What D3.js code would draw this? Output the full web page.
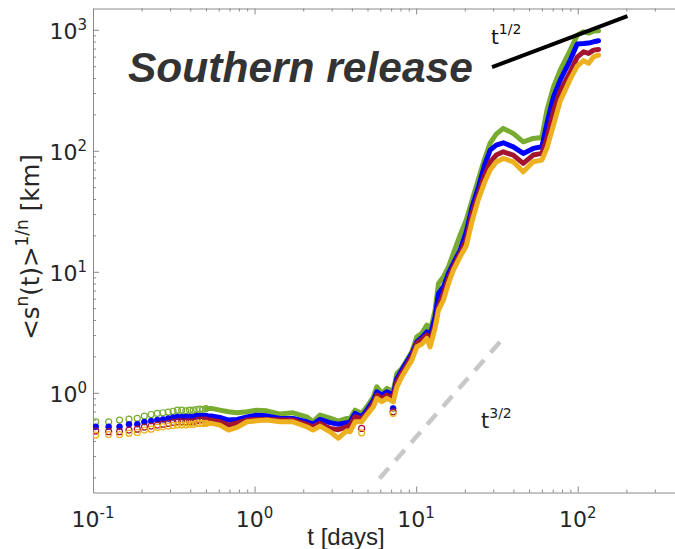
<!DOCTYPE html>
<html>
<head>
<meta charset="utf-8">
<script src="https://cdn.jsdelivr.net/npm/d3@7"></script>
<style>
  html, body { margin: 0; padding: 0; background: #fff; }
  svg { display: block; }
</style>
</head>
<body>
<svg id="chart" width="675" height="549"></svg>
<script>
// Early half-hourly samples (days), drawn as individual markers
const sampleTimes = [0.104, 0.125, 0.146, 0.167, 0.188, 0.208, 0.229, 0.25, 0.271, 0.292,
                     0.313, 0.333, 0.354, 0.375, 0.396, 0.417, 0.438, 0.458, 0.479, 0.5];
const greenSamples  = [0.576, 0.576, 0.595, 0.606, 0.614, 0.642, 0.662, 0.676, 0.684, 0.693,
                       0.704, 0.719, 0.719, 0.710, 0.719, 0.719, 0.728, 0.733, 0.728, 0.742];
const blueSamples   = [0.524, 0.524, 0.524, 0.549, 0.551, 0.573, 0.584, 0.595, 0.602, 0.612,
                       0.624, 0.632, 0.632, 0.632, 0.632, 0.632, 0.642, 0.642, 0.642, 0.642];
const redSamples    = [0.483, 0.477, 0.477, 0.492, 0.501, 0.521, 0.531, 0.541, 0.551, 0.558,
                       0.569, 0.576, 0.576, 0.576, 0.576, 0.576, 0.588, 0.595, 0.595, 0.595];
const orangeSamples = [0.447, 0.452, 0.452, 0.464, 0.470, 0.492, 0.501, 0.518, 0.524, 0.531,
                       0.538, 0.541, 0.541, 0.541, 0.548, 0.548, 0.558, 0.558, 0.558, 0.558];

// Later record (days), dense enough to read as continuous tracks
const trackTimes = [0.5, 0.54, 0.61, 0.69, 0.78, 0.9, 1.03, 1.19, 1.44, 1.73,
                    2.1, 2.3, 2.54, 2.93, 3.3, 3.72, 3.9, 4.19, 4.61, 4.95,
                    5.44, 5.71, 6.13, 6.59, 6.9, 7.23, 7.6, 8.15, 8.76, 9.41,
                    10.1, 10.85, 11.65, 12.2, 13.1, 13.75, 14.75, 15.85, 17.0, 18.7,
                    20.4, 22.2, 24.2, 26.4, 28.7, 31.3, 34.6, 39.9, 46.0, 53.0,
                    60.0, 64.5, 70.8, 77.9, 89.9, 99.3, 108.6, 116.7, 125.3, 134.5];
const greenTrack = [0.742, 0.743, 0.719, 0.697, 0.683, 0.697, 0.719, 0.710, 0.667, 0.683,
                    0.633, 0.576, 0.654, 0.618, 0.584, 0.614, 0.614, 0.719, 0.676, 0.766,
                    0.927, 1.121, 0.989, 1.087, 1.053, 1.053, 1.446, 1.591, 1.863, 2.182,
                    2.903, 3.097, 3.627, 3.192, 4.826, 8.02, 9.09, 11.0, 14.19, 20.1,
                    26.75, 39.1, 57.3, 83.8, 115.8, 137.4, 153.2, 139.3, 118.7, 126.6,
                    129.0, 216.9, 338, 464.5, 679.5, 904, 962.7, 939, 975.6, 981];
const blueTrack  = [0.642, 0.642, 0.626, 0.595, 0.603, 0.633, 0.654, 0.645, 0.614, 0.614,
                    0.576, 0.551, 0.603, 0.567, 0.549, 0.565, 0.576, 0.676, 0.633, 0.719,
                    0.870, 1.019, 0.957, 1.019, 0.989, 0.989, 1.315, 1.540, 1.804, 2.117,
                    2.639, 2.870, 3.192, 2.998, 4.248, 6.63, 7.52, 9.70, 11.73, 15.11,
                    21.29, 34.24, 49.2, 74.7, 101.3, 111.5, 116.5, 107.9, 95.2, 104.7,
                    107.9, 168.4, 279.4, 384, 561.9, 761.8, 769, 776.5, 795.8, 811];
const redTrack   = [0.595, 0.595, 0.576, 0.541, 0.565, 0.595, 0.603, 0.603, 0.595, 0.595,
                    0.548, 0.524, 0.559, 0.508, 0.496, 0.524, 0.541, 0.633, 0.614, 0.676,
                    0.817, 0.957, 0.899, 0.957, 0.927, 0.927, 1.233, 1.446, 1.694, 2.011,
                    2.560, 2.763, 2.998, 2.726, 3.627, 5.137, 6.63, 8.82, 11.0, 14.19,
                    18.32, 30.56, 43.05, 61.8, 80.7, 92.2, 98.1, 92.2, 78.7, 92.2,
                    95.2, 127.4, 212.8, 311.5, 447.1, 594.9, 658, 638, 679.5, 688.7];
const orangeTrack = [0.558, 0.559, 0.541, 0.492, 0.518, 0.576, 0.587, 0.595, 0.576, 0.576,
                     0.524, 0.492, 0.531, 0.476, 0.422, 0.485, 0.476, 0.576, 0.576, 0.654,
                     0.766, 0.899, 0.843, 0.899, 0.870, 0.843, 1.121, 1.356, 1.591, 1.863,
                     2.400, 2.526, 2.816, 2.400, 3.425, 4.826, 5.84, 8.02, 10.33, 13.30,
                     16.31, 26.24, 39.1, 54.1, 69.3, 80.7, 86.5, 81.1, 67.1, 81.1,
                     83.8, 105.3, 163.1, 257.5, 391.3, 501.2, 556.6, 527.6, 598.4, 618];

// Isolated samples that fall below the tracks
const strayTimes  = [4.6, 7.2];
const greenStray  = [null, null];
const blueStray   = [null, 0.743];
const redStray    = [0.508, 0.697];
const orangeStray = [0.467, 0.673];

// Power-law guides: end points (days, km)
const halfGuideTimes = [29.5, 203];
const halfGuideValues = [491, 1295];
const threeHalfGuideTimes = [5.93, 33.1];
const threeHalfGuideValues = [0.196, 2.64];

// Axis ticks and their labels (powers of ten)
const xMajorTicks = [0.1, 1, 10, 100];
const xTickExponents = ["-1", "0", "1", "2"];
const yMajorTicks = [1, 10, 100, 1000];
const yTickExponents = ["0", "1", "2", "3"];

const series = [
  { color: "#77AC30", filled: false, samples: greenSamples,  track: greenTrack,  stray: greenStray },
  { color: "#0000FF", filled: true,  samples: blueSamples,   track: blueTrack,   stray: blueStray },
  { color: "#A2142F", filled: false, samples: redSamples,    track: redTrack,    stray: redStray },
  { color: "#EDB120", filled: false, samples: orangeSamples, track: orangeTrack, stray: orangeStray }
];

const svg = d3.select("#chart");
const x = d3.scaleLog().domain([0.1, 400]).range([93, 675]);
const y = d3.scaleLog().domain([0.15, 1500]).range([492.5, 8.5]);

const axisColor = "#8a8a8a";
const labelColor = "#262626";
const tickFont = "'DejaVu Sans', sans-serif";

function styleAxis(g) {
  g.selectAll(".domain").attr("stroke", axisColor).attr("stroke-width", 1);
  g.selectAll(".tick line").attr("stroke", axisColor).attr("stroke-width", 1);
}

const xMinor = x.ticks().filter(t => !xMajorTicks.some(m => Math.abs(m - t) < 1e-9));
const yMinor = y.ticks().filter(t => !yMajorTicks.some(m => Math.abs(m - t) < 1e-9));

const [yBottom, yTop] = y.range();
const xLeft = x.range()[0];

// bottom axis
svg.append("g").attr("transform", `translate(0,${yBottom})`)
  .call(d3.axisBottom(x).tickValues(xMajorTicks).tickSizeInner(-6).tickSizeOuter(0).tickFormat(""))
  .call(styleAxis);
svg.append("g").attr("transform", `translate(0,${yBottom})`)
  .call(d3.axisBottom(x).tickValues(xMinor).tickSizeInner(-3).tickSizeOuter(0).tickFormat(""))
  .call(g => g.select(".domain").remove()).call(styleAxis);
// top axis
svg.append("g").attr("transform", `translate(0,${yTop})`)
  .call(d3.axisTop(x).tickValues(xMajorTicks).tickSizeInner(-6).tickSizeOuter(0).tickFormat(""))
  .call(styleAxis);
svg.append("g").attr("transform", `translate(0,${yTop})`)
  .call(d3.axisTop(x).tickValues(xMinor).tickSizeInner(-3).tickSizeOuter(0).tickFormat(""))
  .call(g => g.select(".domain").remove()).call(styleAxis);
// left axis
svg.append("g").attr("transform", `translate(${xLeft},0)`)
  .call(d3.axisLeft(y).tickValues(yMajorTicks).tickSizeInner(-6).tickSizeOuter(0).tickFormat(""))
  .call(styleAxis);
svg.append("g").attr("transform", `translate(${xLeft},0)`)
  .call(d3.axisLeft(y).tickValues(yMinor).tickSizeInner(-3).tickSizeOuter(0).tickFormat(""))
  .call(g => g.select(".domain").remove()).call(styleAxis);

// power-of-ten tick labels
function powerLabel(sel, exponent) {
  sel.append("tspan").text("10");
  sel.append("tspan").attr("dy", -9).attr("font-size", 15).text(exponent);
}
xMajorTicks.forEach((t, i) => {
  svg.append("text")
    .attr("x", x(t)).attr("y", 527)
    .attr("text-anchor", "middle")
    .attr("font-family", tickFont).attr("font-size", 22).attr("fill", labelColor)
    .call(powerLabel, xTickExponents[i]);
});
yMajorTicks.forEach((t, i) => {
  svg.append("text")
    .attr("x", 87).attr("y", y(t) + 9)
    .attr("text-anchor", "end")
    .attr("font-family", tickFont).attr("font-size", 22).attr("fill", labelColor)
    .call(powerLabel, yTickExponents[i]);
});

// axis titles
svg.append("text")
  .attr("x", 346).attr("y", 545)
  .attr("text-anchor", "middle")
  .attr("font-family", "'Liberation Sans', Arial, sans-serif").attr("font-size", 24)
  .attr("fill", labelColor)
  .text("t [days]");

const yTitle = svg.append("text")
  .attr("transform", "translate(39,247) rotate(-90)")
  .attr("text-anchor", "middle")
  .attr("font-family", tickFont).attr("font-size", 24.5).attr("fill", labelColor);
yTitle.append("tspan").text("<s");
yTitle.append("tspan").attr("dy", -11).attr("font-size", 17).text("n");
yTitle.append("tspan").attr("dy", 11).text("(t)>");
yTitle.append("tspan").attr("dy", -11).attr("font-size", 17).text("1/n");
yTitle.append("tspan").attr("dy", 11).text(" [km]");

// plot clip
svg.append("clipPath").attr("id", "plot-clip")
  .append("rect").attr("x", xLeft).attr("y", yTop).attr("width", 675 - xLeft).attr("height", yBottom - yTop);
const plot = svg.append("g").attr("clip-path", "url(#plot-clip)");

// t^{3/2} guide (dashed grey)
const guideLine = d3.line().x(d => x(d[0])).y(d => y(d[1]));
plot.append("path")
  .datum(threeHalfGuideTimes.map((t, i) => [t, threeHalfGuideValues[i]]))
  .attr("d", guideLine)
  .attr("fill", "none").attr("stroke", "#c8c8c8").attr("stroke-width", 4.5)
  .attr("stroke-dasharray", "14,10");

// series
const trackLine = d3.line().x(d => x(d[0])).y(d => y(d[1]));
const markerR = 3;
series.forEach(s => {
  const g = plot.append("g");
  g.append("path")
    .datum(trackTimes.map((t, i) => [t, s.track[i]]))
    .attr("d", trackLine)
    .attr("fill", "none").attr("stroke", s.color)
    .attr("stroke-width", 5).attr("stroke-linejoin", "round").attr("stroke-linecap", "round");
  const pts = sampleTimes.map((t, i) => [t, s.samples[i]])
    .concat(strayTimes.map((t, i) => [t, s.stray[i]]).filter(d => d[1] != null));
  g.selectAll("circle").data(pts).join("circle")
    .attr("cx", d => x(d[0])).attr("cy", d => y(d[1])).attr("r", markerR)
    .attr("fill", s.filled ? s.color : "none")
    .attr("stroke", s.color).attr("stroke-width", s.filled ? 0.6 : 1.2);
});

// t^{1/2} guide (solid black)
plot.append("path")
  .datum(halfGuideTimes.map((t, i) => [t, halfGuideValues[i]]))
  .attr("d", guideLine)
  .attr("fill", "none").attr("stroke", "#000").attr("stroke-width", 4);

// guide labels
const halfLabel = svg.append("text")
  .attr("x", 491).attr("y", 44)
  .attr("font-family", tickFont).attr("font-size", 20).attr("fill", "#111");
halfLabel.append("tspan").text("t");
halfLabel.append("tspan").attr("dy", -10).attr("font-size", 14).text("1/2");

const threeHalfLabel = svg.append("text")
  .attr("x", 481).attr("y", 428)
  .attr("font-family", tickFont).attr("font-size", 21).attr("fill", "#222");
threeHalfLabel.append("tspan").text("t");
threeHalfLabel.append("tspan").attr("dy", -10).attr("font-size", 14).text("3/2");

// panel title
svg.append("text")
  .attr("x", 128).attr("y", 82)
  .attr("font-family", "'Liberation Sans', Arial, sans-serif")
  .attr("font-size", 42.5).attr("font-weight", "bold").attr("font-style", "italic")
  .attr("fill", "#333")
  .text("Southern release");
</script>
</body>
</html>
